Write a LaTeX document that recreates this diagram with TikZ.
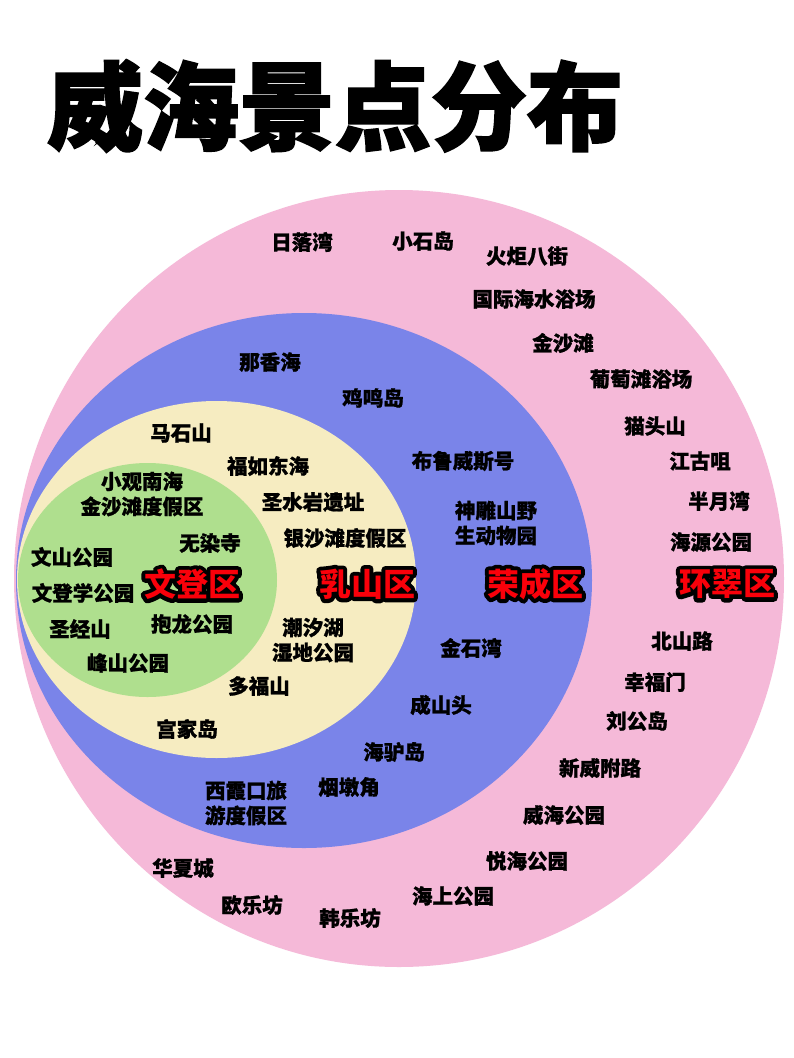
\documentclass[tikz,border=0pt]{standalone}
\usepackage{fontspec}
\newfontfamily\cjk{Noto Sans CJK SC}
\newfontfamily\cjklab{Noto Sans CJK SC}[BoldFeatures={FakeBold=1}]
\newfontfamily\cjkheavy{Noto Sans CJK SC}[BoldFeatures={FakeBold=2}]
\definecolor{pinkc}{RGB}{245,185,216}
\definecolor{bluec}{RGB}{122,132,233}
\definecolor{yellowc}{RGB}{246,236,193}
\definecolor{greenc}{RGB}{175,223,142}
\definecolor{redc}{RGB}{250,0,10}
\newcommand{\distlabel}[4]{%
  \node[dist,text=black] (#1o) at (#2,#3) {\special{pdf:literal direct q 1 Tr 8 w 1 j 1 J}#4\special{pdf:literal direct Q}};
  \node[dist,text=redc] (#1) at (#2,#3) {#4};}
\begin{document}
\begin{tikzpicture}[x=1pt,y=-1pt,
  lab/.style={font=\cjklab\bfseries\fontsize{20.5}{25}\selectfont, text=black, inner sep=0pt, align=center},
  dist/.style={font=\cjk\bfseries\fontsize{32}{32}\selectfont, inner sep=0pt},
  titletext/.style={font=\cjkheavy\bfseries\fontsize{96}{96}\selectfont, text=black, inner sep=0pt}]
\useasboundingbox (0,0) rectangle (793,1058);
\fill[white] (0,0) rectangle (793,1058);
% regions
\fill[pinkc] (399,578.5) ellipse [x radius=385pt, y radius=388.5pt];
\fill[bluec] (304,580.5) ellipse [x radius=288pt, y radius=267.5pt];
\fill[yellowc] (216.5,579.5) ellipse [x radius=199.5pt, y radius=178.5pt];
\fill[greenc] (147.5,580) ellipse [x radius=129.5pt, y radius=117pt];
% title
\node[titletext] (title) at (335,106) {威海景点分布};
% pink
\node[lab] (p1) at (302,242) {日落湾};
\node[lab] (p2) at (423,241) {小石岛};
\node[lab] (p3) at (527,256) {火炬八街};
\node[lab] (p4) at (534,299) {国际海水浴场};
\node[lab] (p5) at (563,343) {金沙滩};
\node[lab] (p6) at (641,379) {葡萄滩浴场};
\node[lab] (p7) at (655,426) {猫头山};
\node[lab] (p8) at (700,461) {江古咀};
\node[lab] (p9) at (719,501) {半月湾};
\node[lab] (p10) at (711,542) {海源公园};
\node[lab] (p11) at (682,641) {北山路};
\node[lab] (p12) at (655,682) {幸福门};
\node[lab] (p13) at (637,721) {刘公岛};
\node[lab] (p14) at (600,768) {新威附路};
\node[lab] (p15) at (564,815) {威海公园};
\node[lab] (p16) at (527,861) {悦海公园};
\node[lab] (p17) at (453,896) {海上公园};
\node[lab] (p18) at (350,918) {韩乐坊};
\node[lab] (p19) at (252,905) {欧乐坊};
\node[lab] (p20) at (183,868) {华夏城};
% blue
\node[lab] (b1) at (270,362) {那香海};
\node[lab] (b2) at (373,398) {鸡鸣岛};
\node[lab] (b3) at (463,461) {布鲁威斯号};
\node[lab] (b4) at (496,523) {神雕山野\\生动物园};
\node[lab] (b5) at (471,648) {金石湾};
\node[lab] (b6) at (441,705) {成山头};
\node[lab] (b7) at (394,752) {海驴岛};
\node[lab] (b8) at (349,787) {烟墩角};
\node[lab] (b9) at (246,803) {西霞口旅\\游度假区};
% yellow
\node[lab] (y1) at (181,433) {马石山};
\node[lab] (y2) at (268,466) {福如东海};
\node[lab] (y3) at (313,502) {圣水岩遗址};
\node[lab] (y4) at (345,538) {银沙滩度假区};
\node[lab] (y5) at (313,640) {潮汐湖\\湿地公园};
\node[lab] (y6) at (259,686) {多福山};
\node[lab] (y7) at (187,729) {宫家岛};
% green
\node[lab] (g1) at (142,494) {小观南海\\金沙滩度假区};
\node[lab] (g2) at (210,543) {无染寺};
\node[lab] (g3) at (72,557) {文山公园};
\node[lab] (g4) at (83,593) {文登学公园};
\node[lab] (g5) at (80,629) {圣经山};
\node[lab] (g6) at (192,624) {抱龙公园};
\node[lab] (g7) at (128,663) {峰山公园};
% districts
\distlabel{dwd}{192}{584}{文登区}
\distlabel{drs}{367}{584}{乳山区}
\distlabel{drc}{535}{584}{荣成区}
\distlabel{dhc}{727}{584}{环翠区}
\end{tikzpicture}
\end{document}
